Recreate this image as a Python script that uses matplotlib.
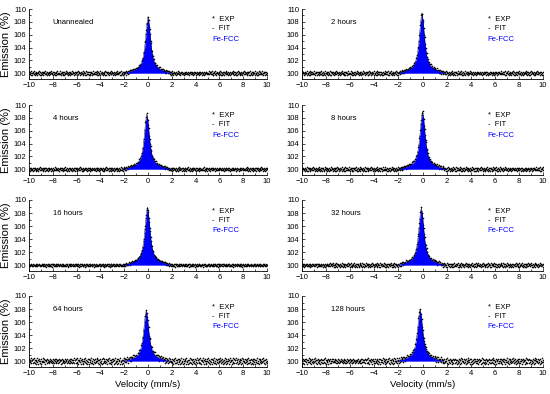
import numpy as np
import matplotlib
matplotlib.use("Agg")
import matplotlib.pyplot as plt
from matplotlib.ticker import MultipleLocator

plt.rcParams["font.family"] = ["Liberation Sans", "DejaVu Sans"]

# panel labels, peak tops (%), peak centres (mm/s), noise level of the EXP band
labels = ["Unannealed", "2 hours", "4 hours", "8 hours",
          "16 hours", "32 hours", "64 hours", "128 hours"]
peak_top = [108.8, 109.4, 108.6, 109.0, 108.9, 108.8, 107.8, 108.0]
peak_pos = [0.0, -0.05, -0.1, 0.0, -0.05, -0.1, -0.15, -0.2]
noise_amp = [1.0, 1.0, 0.9, 1.0, 0.7, 1.0, 1.5, 1.4]

# relative peak shape (offset in mm/s, fraction of peak height)
shape_v = [-2.0, -1.5, -1.0, -0.7, -0.5, -0.4, -0.3, -0.2, -0.1, 0.0,
           0.1, 0.2, 0.3, 0.4, 0.5, 0.7, 1.0, 1.5, 2.0]
shape_h = [0.0, 0.03, 0.07, 0.12, 0.21, 0.29, 0.42, 0.62, 0.86, 1.0,
           0.86, 0.62, 0.42, 0.29, 0.21, 0.12, 0.07, 0.03, 0.0]

# scatter of EXP points about the baseline (%), read as a typical band
scatter = [0.12, -0.18, 0.25, -0.05, 0.30, -0.22, 0.08, -0.28, 0.15, 0.02,
           -0.12, 0.27, -0.30, 0.10, -0.02, 0.22, -0.15, 0.05, -0.25, 0.18,
           0.00, -0.08, 0.28, -0.20, 0.14, -0.32, 0.06, 0.20, -0.10, 0.24,
           -0.26, 0.09, -0.04, 0.16, -0.14, 0.31, -0.19, 0.03, 0.21, -0.29,
           0.11, -0.07, 0.26, -0.23, 0.04, -0.11, 0.19, -0.01, 0.29, -0.17,
           0.07, -0.27, 0.13, -0.09, 0.23, -0.21, 0.01, 0.17, -0.31, 0.10,
           -0.06, 0.27, -0.16, 0.08]

velocity = np.linspace(-10, 10, 512)
scatter_arr = np.array(scatter)
band = np.concatenate([scatter_arr, scatter_arr[::-1], np.roll(scatter_arr, 13),
                       np.roll(scatter_arr[::-1], 29), np.roll(scatter_arr, 41),
                       scatter_arr[::-1] * 0.8, np.roll(scatter_arr, 5),
                       np.roll(scatter_arr[::-1], 50)])

W, H = 550, 394
fig = plt.figure(figsize=(5.5, 3.94), dpi=100)

col_left = [29, 302]
col_right = [267, 543]
row_top = [9, 105, 200, 296]
row_bot = [79, 175, 271, 367]

for i, lab in enumerate(labels):
    r, c = divmod(i, 2)
    x0, x1 = col_left[c], col_right[c]
    y0, y1 = row_top[r], row_bot[r]
    ax = fig.add_axes([x0 / W, 1 - y1 / H, (x1 - x0) / W, (y1 - y0) / H])

    height = peak_top[i] - 100.0
    fit_v = np.array(shape_v) + peak_pos[i]
    fit_y = 100.0 + height * np.array(shape_h)

    noise = np.roll(band, 37 * i) * noise_amp[i]
    exp_y = 100.0 + np.interp(velocity, fit_v, fit_y - 100.0, left=0, right=0) + noise

    ax.plot(velocity, exp_y, ls="none", marker="o", ms=0.9, mfc="black",
            mec="black", mew=0.2, zorder=2)
    ax.fill_between(fit_v, 100.0, fit_y, color="#0000ff", lw=0, zorder=3)
    ax.plot(fit_v, fit_y, color="black", lw=0.3, zorder=4)

    ax.set_xlim(-10, 10)
    ax.set_ylim(99.1, 110)
    ax.xaxis.set_major_locator(MultipleLocator(2))
    ax.xaxis.set_minor_locator(MultipleLocator(1))
    ax.yaxis.set_major_locator(MultipleLocator(2))
    ax.yaxis.set_minor_locator(MultipleLocator(1))
    ax.tick_params(which="both", direction="in", labelsize=5.5, width=0.5, pad=2)
    ax.tick_params(which="major", length=2.5)
    ax.tick_params(which="minor", length=1.5)
    for s in ["top", "right"]:
        ax.spines[s].set_visible(False)
    for s in ["left", "bottom"]:
        ax.spines[s].set_linewidth(0.6)
    ax.set_facecolor("none")

    ax.text(-8.0 if c == 0 else -7.6, 107.9, lab, fontsize=5.5, va="center")
    ax.text(5.4, 108.3, "*  EXP", fontsize=5.5, va="center")
    ax.text(5.4, 106.9, "-  FIT", fontsize=5.5, va="center")
    ax.text(5.4, 105.3, "Fe-FCC", fontsize=5.5, va="center", color="#0000ff")

    if c == 0:
        ax.set_ylabel("Emission (%)", fontsize=8, labelpad=2)
    if r == 3:
        ax.set_xlabel("Velocity (mm/s)", fontsize=6.8, labelpad=2)

fig.savefig("out.png", dpi=100)
